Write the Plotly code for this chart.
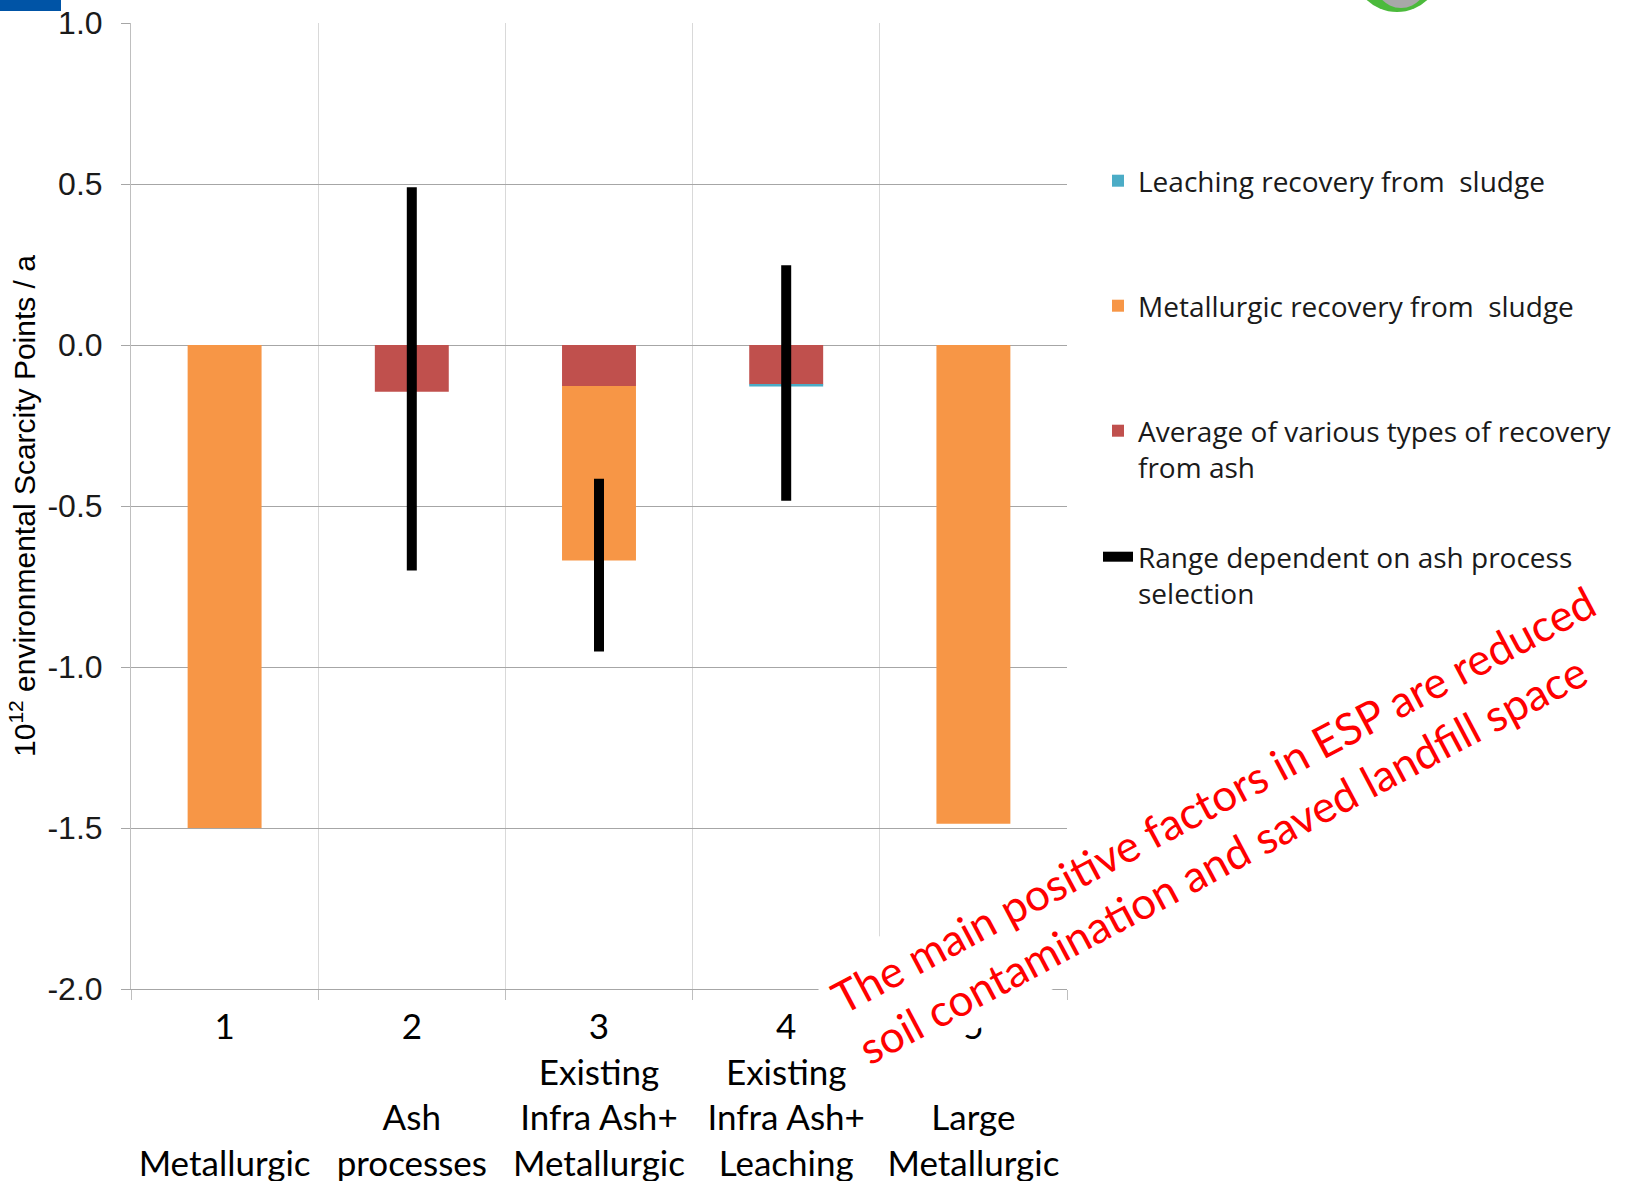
import plotly.graph_objects as go

# ---------------- data ----------------
scenario_numbers = ["1", "2", "3", "4", "5"]
scenario_line1 = ["", "", "Existing", "Existing", ""]
scenario_line2 = ["", "Ash", "Infra Ash+", "Infra Ash+", "Large"]
scenario_line3 = ["Metallurgic", "processes", "Metallurgic", "Leaching", "Metallurgic"]

ash_average = [0.0, -0.145, -0.127, -0.123, 0.0]          # Average of various types of recovery from ash
metallurgic_sludge = [-1.50, 0.0, -0.542, 0.0, -1.487]    # Metallurgic recovery from sludge
leaching_sludge = [0.0, 0.0, 0.0, -0.006, 0.0]            # Leaching recovery from sludge
range_high = [None, 0.49, -0.415, 0.248, None]            # Range dependent on ash process selection
range_low = [None, -0.70, -0.952, -0.484, None]

y_tick_values = [1.0, 0.5, 0.0, -0.5, -1.0, -1.5, -2.0]
y_tick_labels = ["1.0", "0.5", "0.0", "-0.5", "-1.0", "-1.5", "-2.0"]

NB = "\u00a0"
categories = [
    "<br>".join([n, a or NB, b or NB, c])
    for n, a, b, c in zip(scenario_numbers, scenario_line1, scenario_line2, scenario_line3)
]

# ---------------- geometry (pixels) ----------------
W, H = 1627, 1181
L, R, T, B = 131, 1067, 23, 989
pw, ph = R - L, B - T


def px(x):
    return (x - L) / pw


def py(y):
    return (B - y) / ph


ORANGE = "#f79646"
RED = "#c0504d"
BLUE = "#4bacc6"
LEG_FONT = dict(family="Open Sans", size=28, color="#1a1a1a")

fig = go.Figure()

fig.add_trace(go.Bar(
    x=categories, y=ash_average, name="Average of various types of recovery<br>from ash",
    marker=dict(color=RED, line=dict(width=0)), legend="legend3",
))
fig.add_trace(go.Bar(
    x=categories, y=metallurgic_sludge, name="Metallurgic recovery from" + NB + " sludge",
    marker=dict(color=ORANGE, line=dict(width=0)), legend="legend2",
))
fig.add_trace(go.Bar(
    x=categories, y=leaching_sludge, name="Leaching recovery from" + NB + " sludge",
    marker=dict(color=BLUE, line=dict(width=0)), legend="legend",
))

# range lines
rx, ry = [], []
for c, hi, lo in zip(categories, range_high, range_low):
    if hi is None:
        continue
    rx += [c, c, None]
    ry += [hi, lo, None]
fig.add_trace(go.Scatter(
    x=rx, y=ry, mode="lines", name="Range dependent on ash process<br>selection",
    line=dict(color="black", width=10), legend="legend4", connectgaps=False,
))

legend_common = dict(xanchor="left", yanchor="middle", bgcolor="rgba(0,0,0,0)",
                     font=LEG_FONT, itemwidth=30, valign="top")
lx = px(1098)

fig.update_layout(
    width=W, height=H,
    margin=dict(l=L, r=W - R, t=T, b=H - B, autoexpand=False),
    paper_bgcolor="white", plot_bgcolor="white",
    barmode="relative", bargap=0.605,
    showlegend=True,
    legend=dict(x=lx, y=py(181), **legend_common),
    legend2=dict(x=lx, y=py(306), **legend_common),
    legend3=dict(x=lx, y=py(449), **legend_common),
    legend4=dict(x=lx, y=py(575), **legend_common),
    xaxis=dict(
        type="category", range=[-0.5, 4.5], tickson="boundaries",
        showgrid=True, gridcolor="#d9d9d9", gridwidth=1,
        showline=True, linecolor="#a6a6a6", linewidth=1,
        ticks="outside", ticklen=10, tickcolor="#bfbfbf",
        tickfont=dict(family="Lato", size=35, color="#000000"),
        ticklabelstandoff=7,
        zeroline=False,
    ),
    yaxis=dict(
        range=[-2.0, 1.0], tickmode="array", tickvals=y_tick_values, ticktext=y_tick_labels,
        showgrid=True, gridcolor="#a6a6a6", gridwidth=1,
        showline=True, linecolor="#bfbfbf", linewidth=1,
        ticks="outside", ticklen=9, tickcolor="#a6a6a6",
        tickfont=dict(family="Liberation Sans", size=32, color="#1a1a1a"),
        ticklabelstandoff=12,
        zeroline=False,
        title=dict(text="10<sup>12</sup> environmental Scarcity Points / a",
                   font=dict(family="Liberation Sans", size=30, color="#000000"),
                   standoff=2),
    ),
)

# decorative shapes: blue header bar and logo fragment
fig.add_shape(type="rect", xref="paper", yref="paper",
              x0=px(0), x1=px(61), y0=py(11), y1=py(-5),
              fillcolor="#0054a6", line=dict(width=0), layer="above")
fig.add_shape(type="circle", xref="paper", yref="paper",
              x0=px(1352), x1=px(1442), y0=py(12), y1=py(-80),
              fillcolor="#4cba3c", line=dict(width=0), layer="above")
fig.add_shape(type="circle", xref="paper", yref="paper",
              x0=px(1372), x1=px(1430), y0=py(8), y1=py(-60),
              fillcolor="#a8a8a8", line=dict(width=0), layer="above")

fig.add_annotation(
    xref="paper", yref="paper", x=px(1226), y=py(824),
    xanchor="center", yanchor="middle",
    text="The main positive factors in ESP are reduced<br>soil contamination and saved landfill space",
    showarrow=False, textangle=-28,
    font=dict(family="Lato", size=44, color="#ff0000"),
    bgcolor="white", borderpad=9, align="left",
)

fig.write_html("out.html")
